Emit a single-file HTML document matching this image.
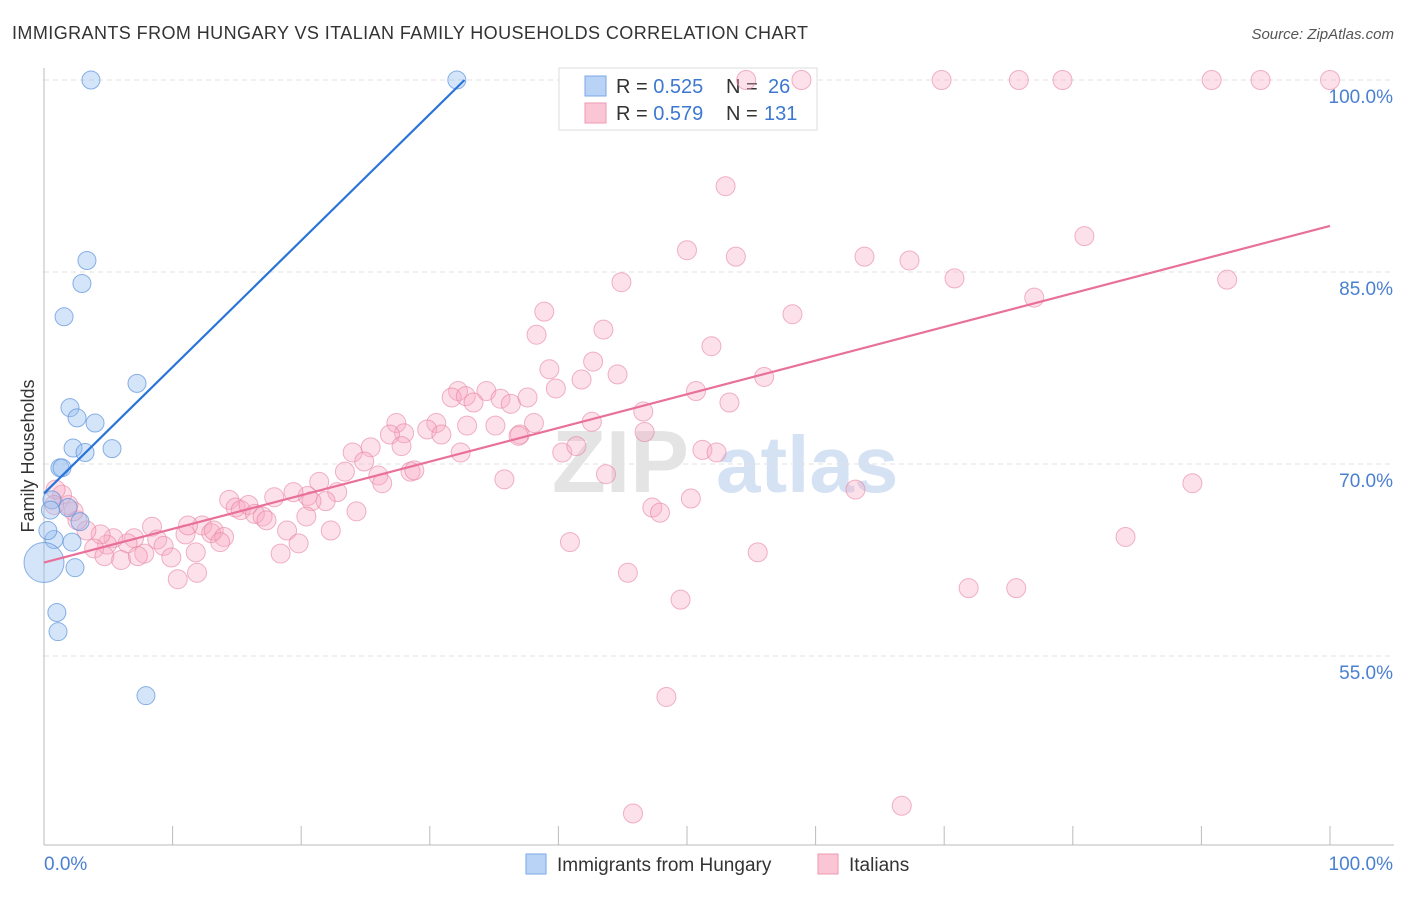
<!DOCTYPE html>
<html><head><meta charset="utf-8">
<style>
body{margin:0;background:#fff;font-family:"Liberation Sans",sans-serif;}
svg text{font-family:"Liberation Sans",sans-serif;}
</style></head>
<body>
<svg id="chart" width="1406" height="892" xmlns="http://www.w3.org/2000/svg">
<text x="12" y="39" font-size="18" fill="#333" textLength="796" lengthAdjust="spacing">IMMIGRANTS FROM HUNGARY VS ITALIAN FAMILY HOUSEHOLDS CORRELATION CHART</text>
<text x="1394" y="39" font-size="15" fill="#555" text-anchor="end" font-style="italic">Source: ZipAtlas.com</text>
<g>
<text x="552" y="492" font-size="88" fill="#e4e4e4" font-family="Liberation Serif" font-weight="bold">ZIP</text>
<text x="716" y="492" font-size="80" fill="#d4e2f4" font-weight="bold">atlas</text>
</g>
<g id="grid"></g>
<g id="axes"></g>
<g>
<rect x="559" y="68" width="258" height="62" fill="#fff" stroke="#ddd"/>
<rect x="585" y="76" width="21" height="20" fill="#b8d3f5" stroke="#7aaae6"/>
<rect x="585" y="103" width="21" height="20" fill="#fac6d5" stroke="#ee9ab2"/>
<text x="616" y="93" font-size="20" fill="#333">R = <tspan fill="#3d78d0">0.525</tspan><tspan x="726">N = </tspan><tspan x="768" fill="#3d78d0">26</tspan></text>
<text x="616" y="120" font-size="20" fill="#333">R = <tspan fill="#3d78d0">0.579</tspan><tspan x="726">N = </tspan><tspan x="764" fill="#3d78d0">131</tspan></text>
</g>
<g id="pts"></g>
<g id="lines"></g>
<text transform="translate(34,456) rotate(-90)" font-size="18" fill="#333" text-anchor="middle">Family Households</text>
<g>
<rect x="526" y="854" width="20" height="20" fill="#b8d3f5" stroke="#7aaae6"/>
<text x="557" y="871" font-size="19" fill="#333">Immigrants from Hungary</text>
<rect x="818" y="854" width="20" height="20" fill="#fac6d5" stroke="#ee9ab2"/>
<text x="849" y="871" font-size="19" fill="#333">Italians</text>
</g>
</svg>
<script>
const yTicks=[100,85,70,55];
const yTickLabels=["100.0%","85.0%","70.0%","55.0%"];
const xTickLabels=["0.0%","100.0%"];
const hungaryX=[3.65,32.1,3.34,2.95,1.56,7.23,2.02,2.57,3.97,2.26,3.19,5.29,1.24,1.4,0.62,1.87,2.8,0.78,2.18,2.41,1.0,1.09,7.93,0,0.3,0.5];
const hungaryY=[100,100,85.9,84.1,81.5,76.3,74.4,73.6,73.2,71.25,70.9,71.2,69.7,69.7,67.2,66.6,65.5,64.1,63.9,61.9,58.4,56.9,51.9,62.3,64.8,66.4];
const italianX=[54.6,58.9,69.8,75.8,79.2,90.8,94.6,100,53.0,50.0,53.8,63.8,67.3,44.9,70.8,80.9,92.0,77.0,38.9,58.2,38.3,43.5,51.9,42.7,39.3,44.6,41.8,56.0,39.8,50.7,53.3,46.6,34.4,32.2,31.7,32.8,33.4,35.5,36.3,37.6,42.6,46.7,38.1,32.9,35.1,37.0,27.4,30.5,29.8,28.0,26.9,30.9,32.4,36.9,40.3,41.4,25.4,24.0,24.9,27.8,43.7,51.2,52.3,35.8,28.5,28.8,26.0,26.3,23.4,21.4,22.8,20.5,19.4,17.9,21.9,20.8,24.3,20.4,18.9,22.3,19.8,18.4,14.4,14.9,15.3,15.9,16.4,17.0,17.3,12.3,13.0,13.2,11.0,11.2,14.0,11.8,13.7,8.4,8.8,9.3,7.8,9.9,7.0,6.5,5.4,4.9,4.4,3.9,4.7,6.0,7.3,11.9,10.4,3.3,2.6,2.3,1.9,1.4,0.9,0.8,40.9,47.3,47.9,50.3,55.5,63.1,89.3,84.1,71.9,75.6,45.4,49.5,48.4,45.8,66.7];
const italianY=[100,100,100,100,100,100,100,100,91.7,86.7,86.2,86.2,85.9,84.2,84.5,87.8,84.4,83.0,81.9,81.7,80.1,80.5,79.2,78.0,77.4,77.0,76.6,76.8,75.9,75.7,74.8,74.1,75.7,75.7,75.2,75.3,74.8,75.1,74.7,75.2,73.3,72.5,73.2,73.0,73.0,72.3,73.2,73.2,72.7,72.4,72.3,72.3,70.9,72.2,70.9,71.4,71.3,70.9,70.2,71.4,69.2,71.1,70.9,68.8,69.4,69.5,69.1,68.5,69.4,68.6,67.8,67.5,67.8,67.4,67.1,67.1,66.3,65.9,64.8,64.8,63.8,63.0,67.2,66.6,66.4,66.8,66.1,65.9,65.6,65.2,64.6,64.8,64.5,65.2,64.3,63.1,63.9,65.1,64.1,63.6,63.0,62.7,64.2,63.8,64.2,63.7,64.5,63.4,62.8,62.5,62.8,61.5,61.0,64.8,65.6,66.3,66.8,67.6,68.0,66.8,63.9,66.6,66.2,67.3,63.1,68.0,68.5,64.3,60.3,60.3,61.5,59.4,51.8,42.7,43.3];
const hungaryTrend=[[0,67.7],[32.7,100]];
const italianTrend=[[0,62.3],[100,88.6]];
const NS="http://www.w3.org/2000/svg";
const X=v=>44+v*12.86, Y=v=>80+(100-v)*12.8;
function mk(tag,attrs,parent){const e=document.createElementNS(NS,tag);for(const k in attrs)e.setAttribute(k,attrs[k]);parent.appendChild(e);return e;}
const grid=document.getElementById('grid'),axes=document.getElementById('axes'),pts=document.getElementById('pts'),lines=document.getElementById('lines');
yTicks.forEach((t,i)=>{
 const l=mk('line',{x1:44,x2:1394,y1:Y(t),y2:Y(t),stroke:'#e2e2e2','stroke-dasharray':'5,4'},grid);
 
 
 const tx=mk('text',{x:1393,y:Y(t)+23,'font-size':19,fill:'#4a80d0','text-anchor':'end'},axes);
 tx.textContent=yTickLabels[i];
 
 
});
mk('line',{x1:44,x2:44,y1:68,y2:845,stroke:'#bbb'},axes);
mk('line',{x1:44,x2:1394,y1:845,y2:845,stroke:'#bbb'},axes);
for(let i=0;i<=10;i++){mk('line',{x1:X(i*10),x2:X(i*10),y1:826,y2:845,stroke:'#bbb'},axes);}
const xl0=mk('text',{x:44,y:870,'font-size':19,fill:'#4a80d0'},axes);xl0.textContent=xTickLabels[0];


const xl1=mk('text',{x:1393,y:870,'font-size':19,fill:'#4a80d0','text-anchor':'end'},axes);xl1.textContent=xTickLabels[1];


italianX.forEach((v,i)=>{
 const c=mk('circle',{cx:X(v),cy:Y(italianY[i]),r:9.5,fill:'rgba(248,170,195,0.35)',stroke:'rgba(230,130,160,0.6)','stroke-width':1},pts);
 
 
});
hungaryX.forEach((v,i)=>{
 const c=mk('circle',{cx:X(v),cy:Y(hungaryY[i]),r:(v===0?20:9),fill:'rgba(150,190,240,0.4)',stroke:'rgba(90,145,220,0.7)','stroke-width':1},pts);
 
 
});
const bl=mk('line',{x1:X(hungaryTrend[0][0]),y1:Y(hungaryTrend[0][1]),x2:X(hungaryTrend[1][0]),y2:Y(hungaryTrend[1][1]),stroke:'#2a74d8','stroke-width':2.2},lines);


const pl=mk('line',{x1:X(italianTrend[0][0]),y1:Y(italianTrend[0][1]),x2:X(italianTrend[1][0]),y2:Y(italianTrend[1][1]),stroke:'#e8709a','stroke-width':2.2},lines);


</script>
</body></html>
